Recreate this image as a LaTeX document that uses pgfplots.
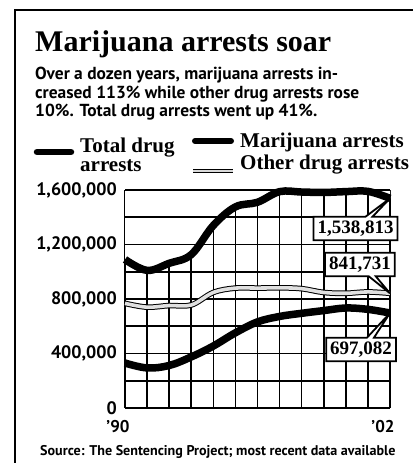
\documentclass[border=0pt]{standalone}
\usepackage{pgfplots}
\pgfplotsset{compat=1.18}
\usepackage{pgfplotstable}
\usetikzlibrary{shapes.callouts}
\usepackage{fontspec}
\setmainfont{Liberation Serif}
\newfontfamily\sansf{PT Sans}

\pgfplotstableread{
year total
1990 1090000
1991 1010000
1992 1062000
1993 1126000
1994 1340000
1995 1476000
1996 1510000
1997 1588000
1998 1585000
1999 1582000
2000 1588000
2001 1590000
2002 1538813
}\totaltab

\pgfplotstableread{
year mj
1990 330000
1991 294000
1992 312000
1993 375000
1994 455000
1995 552000
1996 632000
1997 672000
1998 695000
1999 715000
2000 734000
2001 724000
2002 697082
}\mjtab

\pgfplotstableread{
year other
1990 768000
1991 740000
1992 752000
1993 756000
1994 848000
1995 880000
1996 880000
1997 882000
1998 876000
1999 848000
2000 842000
2001 852000
2002 841731
}\othertab

\begin{document}
\begin{tikzpicture}
\path[use as bounding box] (0pt,0pt) rectangle (413pt,463pt);
% frame
\draw[line width=2pt] (15pt,0pt) -- (15pt,453pt) -- (413pt,453pt);
% title
\node[anchor=base west, inner sep=0pt, font=\bfseries\fontsize{30}{30}\selectfont] at (35pt,411pt) {Marijuana arrests soar};
% subtitle
\begin{scope}[every node/.style={anchor=base west, inner sep=0pt, font=\sansf\bfseries\fontsize{17.4}{17.4}\selectfont}]
\node at (35pt,383pt) {Over a dozen years, marijuana arrests in-};
\node at (35pt,364pt) {creased 113\% while other drug arrests rose};
\node at (35pt,346pt) {10\%. Total drug arrests went up 41\%.};
\end{scope}
% legend
\draw[line width=6.5pt, line cap=round] (37pt,311pt) -- (71pt,311pt);
\draw[line width=6pt, line cap=round] (195pt,322pt) -- (231pt,322pt);
\draw[line width=1.1pt, double=black!15, double distance=2.6pt] (193pt,292pt) -- (233pt,292pt);
\begin{scope}[every node/.style={anchor=base west, inner sep=0pt, font=\bfseries\fontsize{21}{21}\selectfont}]
\node at (80pt,310pt) {Total drug};
\node at (80pt,291pt) {arrests};
\node at (240pt,315pt) {Marijuana arrests};
\node at (240pt,293pt) {Other drug arrests};
\end{scope}

\begin{axis}[
  at={(125pt,55pt)}, anchor=south west,
  scale only axis, width=265pt, height=218pt,
  xmin=1990, xmax=2002, ymin=0, ymax=1600000,
  clip=false,
  axis line style={draw=none},
  major tick length=0pt, minor tick length=0pt,
  xtick={1990,1991,...,2002}, xticklabels={’90,,,,,,,,,,,,’02},
  ytick={0,400000,800000,1200000,1600000},
  yticklabels={0,{400,000},{800,000},{1,200,000},{1,600,000}},
  xmajorgrids,
  major grid style={line width=1.6pt, black},
  scaled y ticks=false,
  yticklabel style={font=\sansf\bfseries\fontsize{18}{18}\selectfont, inner sep=0pt, xshift=-8pt},
  xticklabel style={font=\sansf\bfseries\fontsize{17}{17}\selectfont, inner sep=0pt, anchor=north, yshift=-12pt, xshift=-7pt},
]
% white area above the total line hides the vertical grid there
\addplot[mark=none, draw=none, fill=white, smooth, tension=0.6] table[x=year,y=total] {\totaltab}
  -- (axis cs:2002,1650000) -- (axis cs:1990,1650000) -- cycle;
% horizontal grid lines
\addplot[mark=none, line width=1.6pt] coordinates {(1990,0) (2002,0)};
\addplot[mark=none, line width=1.6pt] coordinates {(1990,200000) (2002,200000)};
\addplot[mark=none, line width=1.6pt] coordinates {(1990,400000) (2002,400000)};
\addplot[mark=none, line width=1.6pt] coordinates {(1990,600000) (2002,600000)};
\addplot[mark=none, line width=1.6pt] coordinates {(1990,800000) (2002,800000)};
\addplot[mark=none, line width=1.6pt] coordinates {(1990,1000000) (2002,1000000)};
\addplot[mark=none, line width=1.6pt] coordinates {(1990,1200000) (2002,1200000)};
\addplot[mark=none, line width=1.6pt] coordinates {(1990,1400000) (2002,1400000)};
\addplot[mark=none, line width=1.6pt] coordinates {(1990,1600000) (2002,1600000)};
% series
\addplot[mark=none, smooth, tension=0.6, line width=7.5pt] table[x=year,y=total] {\totaltab};
\addplot[mark=none, smooth, tension=0.6, line width=1pt, double=black!12, double distance=3.6pt] table[x=year,y=other] {\othertab};
\addplot[mark=none, smooth, tension=0.6, line width=7.5pt] table[x=year,y=mj] {\mjtab};

\begin{scope}[every node/.style={rectangle callout, draw=black, line width=1.8pt, fill=white, inner sep=4pt, callout pointer width=7pt, font=\bfseries\fontsize{19}{19}\selectfont}]
\node[callout absolute pointer={(axis cs:2002,1538813)}] at (axis cs:2000.44,1317400) {1,538,813};
\node[callout absolute pointer={(axis cs:2002,841731)}] at (axis cs:2000.64,1053150) {841,731};
\node[callout absolute pointer={(axis cs:2002,697082)}] at (axis cs:2000.69,429300) {697,082};
\end{scope}
\end{axis}
% source
\node[anchor=base west, inner sep=0pt, font=\sansf\bfseries\fontsize{14.1}{14.1}\selectfont] at (40pt,8pt) {Source: The Sentencing Project; most recent data available};
\end{tikzpicture}
\end{document}
